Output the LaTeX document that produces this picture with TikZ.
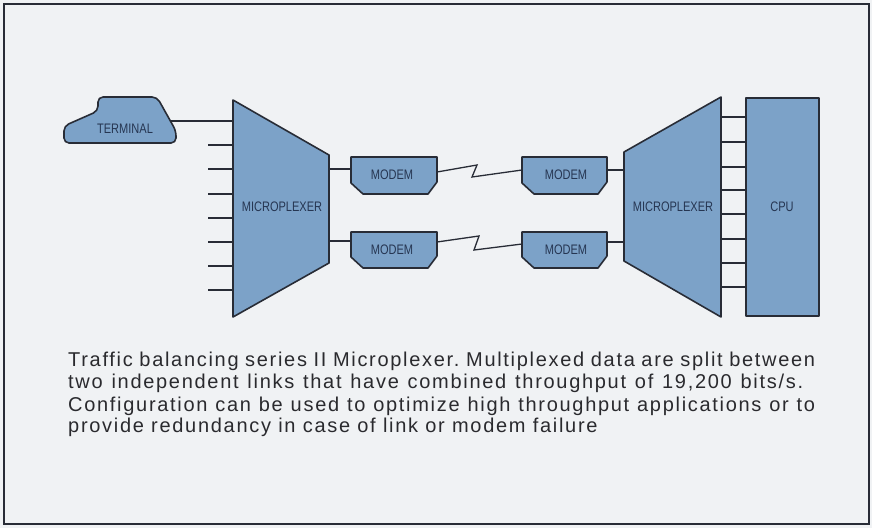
\documentclass[tikz,border=0pt]{standalone}
\usepackage{fontspec}
\setmainfont{Liberation Sans}
\newfontfamily\condfont[FakeStretch=0.8]{Liberation Sans}
\newfontfamily\capfont[LetterSpace=8.5]{Liberation Sans}
\definecolor{boxfill}{RGB}{124,162,200}
\definecolor{ink}{RGB}{40,44,54}
\definecolor{lbl}{RGB}{38,54,82}
\definecolor{paper}{RGB}{240,242,244}
\definecolor{captxt}{RGB}{42,42,46}
\begin{document}
\frenchspacing
\begin{tikzpicture}[x=1pt,y=-1pt,
  blockshape/.style={draw=ink, fill=boxfill, line width=1.6pt, line join=round},
  wire/.style={draw=ink, line width=1.6pt},
  link/.style={draw=ink, line width=1.3pt, line join=miter},
  lab/.style={font=\condfont\fontsize{13.8}{14}\selectfont, text=lbl, inner sep=0pt},
  captext/.style={font=\capfont\fontsize{20}{22}\selectfont, text=captxt, inner sep=0pt, anchor=base west}]
\useasboundingbox (0,0) rectangle (872,528);
\fill[paper] (0,0) rectangle (872,528);
\draw[ink, line width=2.2pt] (4,4) rectangle (869,524);

% connection points
\coordinate (termR) at (171,121);
\coordinate (muxLin1) at (233,121);
\foreach \i/\y in {2/145,3/169,4/194,5/218,6/242,7/266,8/290}{
  \coordinate (inS\i) at (208,\y);
  \coordinate (muxLin\i) at (233,\y);
}
\coordinate (muxLout1) at (329,169);
\coordinate (muxLout2) at (329,241);
\coordinate (mA_w) at (351,169);
\coordinate (mC_w) at (351,241);
\coordinate (mA_e) at (437,172);
\coordinate (mC_e) at (437,242);
\coordinate (mB_w) at (522,170);
\coordinate (mD_w) at (522,244);
\coordinate (mB_e) at (607,170);
\coordinate (mD_e) at (607,242);
\coordinate (muxRin1) at (624,170);
\coordinate (muxRin2) at (624,242);
\foreach \i/\y in {1/117,2/142,3/167,4/190,5/214,6/239,7/263,8/287}{
  \coordinate (muxRout\i) at (721,\y);
  \coordinate (cpuIn\i) at (746,\y);
}

% wires (drawn under the shapes)
\draw[wire] (termR) -- (muxLin1);
\foreach \i in {2,...,8}{ \draw[wire] (inS\i) -- (muxLin\i); }
\draw[wire] (muxLout1) -- (mA_w);
\draw[wire] (muxLout2) -- (mC_w);
\draw[wire] (mB_e) -- (muxRin1);
\draw[wire] (mD_e) -- (muxRin2);
\foreach \i in {1,...,8}{ \draw[wire] (muxRout\i) -- (cpuIn\i); }
\draw[link] (mA_e) -- (477,165) -- (472,177) -- (mB_w);
\draw[link] (mC_e) -- (479,236) -- (474,250) -- (mD_w);

% terminal
\draw[blockshape, rounded corners=5pt] (98,97) -- (157,97) -- (176,131) -- (176,143) -- (64,143) -- (64,126) -- (98,111) -- cycle;
\node[lab] (terminal) at (125,129) {TERMINAL};

% left microplexer
\draw[blockshape] (233,100) -- (329,155) -- (329,263) -- (233,317) -- cycle;
\node[lab] (muxL) at (282,207) {MICROPLEXER};

% modems
\draw[blockshape] (351,157) -- (437,157) -- (437,182) -- (428,194) -- (363,194) -- (351,183) -- cycle;
\node[lab] (modemA) at (392,175) {MODEM};
\draw[blockshape] (522,157) -- (607,157) -- (607,182) -- (598,194) -- (534,194) -- (522,183) -- cycle;
\node[lab] (modemB) at (566,175) {MODEM};
\draw[blockshape] (351,232) -- (437,232) -- (437,256) -- (428,268) -- (363,268) -- (351,257) -- cycle;
\node[lab] (modemC) at (392,250) {MODEM};
\draw[blockshape] (522,232) -- (607,232) -- (607,256) -- (598,268) -- (534,268) -- (522,257) -- cycle;
\node[lab] (modemD) at (566,250) {MODEM};

% right microplexer
\draw[blockshape] (624,152) -- (721,97) -- (721,317) -- (624,261) -- cycle;
\node[lab] (muxR) at (673,207) {MICROPLEXER};

% CPU
\draw[blockshape] (746,98) rectangle (819,316);
\node[lab] (cpu) at (782,207) {CPU};

% caption
\node[captext] (cap1) at (68,366) {\makebox[747pt][s]{Traffic balancing series II Microplexer. Multiplexed data are split between}};
\node[captext] (cap2) at (68,388) {\makebox[735pt][s]{two independent links that have combined throughput of 19,200 bits/s.}};
\node[captext] (cap3) at (68,411) {\makebox[747pt][s]{Configuration can be used to optimize high throughput applications or to}};
\node[captext] (cap4) at (68,432) {provide redundancy in case of link or modem failure};
\end{tikzpicture}
\end{document}
